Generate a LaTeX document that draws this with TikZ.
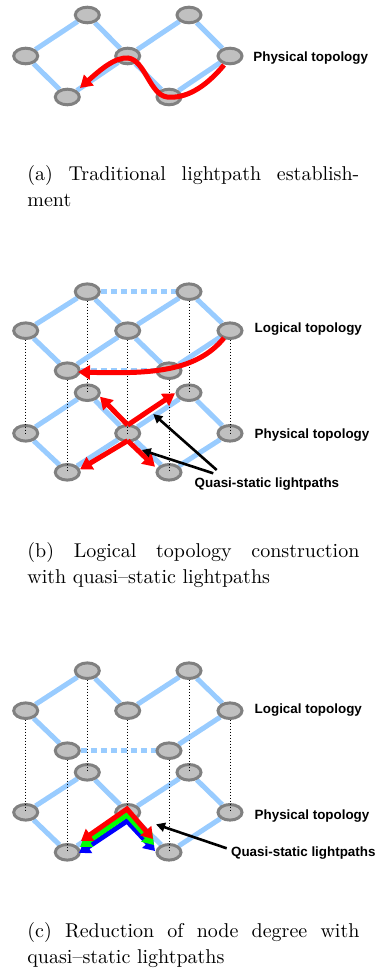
\documentclass[tikz,border=0pt]{standalone}
\usepackage{fontspec}
\newfontfamily\labfont{Liberation Sans}
\usetikzlibrary{arrows.meta,shapes.geometric}
\definecolor{edgeblue}{RGB}{153,204,255}
\definecolor{nodefill}{RGB}{192,192,192}
\definecolor{nodedraw}{RGB}{128,128,128}
\pgfdeclarelayer{pe}
\pgfdeclarelayer{pn}
\pgfdeclarelayer{vd}
\pgfdeclarelayer{le}
\pgfsetlayers{pe,pn,vd,le,main}
\tikzset{
  nd/.style={ellipse, draw=nodedraw, fill=nodefill, line width=1.5pt, minimum width=12pt, minimum height=7.8pt, inner sep=0pt},
  ed/.style={draw=edgeblue, line width=2.5pt},
  ded/.style={draw=edgeblue, line width=2.5pt, dash pattern=on 3pt off 2pt},
  vdot/.style={draw=black, line width=0.45pt, dash pattern=on 0.5pt off 1pt},
  rarr/.style={draw=red, line width=2.5pt, -{Triangle[length=6pt,width=7pt]}},
  dbl/.style={line width=2.5pt, {Triangle[length=5.5pt,width=7pt]}-{Triangle[length=5.5pt,width=7pt]}},
  barr/.style={draw=black, line width=1.3pt, -{Triangle[length=4.5pt,width=4.5pt]}},
  lbl/.style={font=\labfont\bfseries\fontsize{6.7}{8}\selectfont, anchor=base west, inner sep=0pt},
  capt/.style={anchor=base west, inner sep=0pt, font=\fontsize{10}{13.25}\selectfont}
}
\begin{document}
\begin{tikzpicture}[x=0.5pt,y=-0.5pt]
\useasboundingbox (0,0) rectangle (379,973);

% ---------------- Panel (a) ----------------
\begin{pgfonlayer}{pn}
\node[nd] (a1) at (87.3,15) {};
\node[nd] (a2) at (189,15) {};
\node[nd] (a3) at (25.7,56) {};
\node[nd] (a4) at (127.7,56) {};
\node[nd] (a5) at (230,56) {};
\node[nd] (a6) at (67.3,97) {};
\node[nd] (a7) at (169,97) {};
\end{pgfonlayer}
\begin{pgfonlayer}{pe}
\draw[ed] (a3)--(a1)--(a4)--(a2)--(a5)--(a7)--(a4)--(a6)--(a3);
\end{pgfonlayer}
\coordinate (as) at (224,65);
\coordinate (ae) at (80,88);
\draw[rarr] (as) .. controls (205,88) and (185,99) .. (167,97)
  .. controls (150,95) and (145,60) .. (128,58)
  .. controls (115,57) and (100,70) .. (ae);
\node[lbl] (alab) at (253,61.7) {Physical topology};
\node[capt] (acap) at (27,180.5) {\parbox[t]{166pt}{\makebox[166pt][s]{(a) Traditional lightpath establish-}\\ment}};

% ---------------- Panel (b) ----------------
\node[nd] (bL1) at (87.3,291.7) {};
\node[nd] (bL2) at (189,291.7) {};
\node[nd] (bL3) at (25.7,330.7) {};
\node[nd] (bL4) at (127.7,330.7) {};
\node[nd] (bL5) at (230,330.7) {};
\node[nd] (bL6) at (67.3,370.7) {};
\node[nd] (bL7) at (169,370.7) {};
\begin{pgfonlayer}{pn}
\node[nd] (bP1) at (87.3,392.7) {};
\node[nd] (bP2) at (189,392.7) {};
\node[nd] (bP3) at (25.7,433.3) {};
\node[nd] (bP4) at (127.7,433.3) {};
\node[nd] (bP5) at (230,433.3) {};
\node[nd] (bP6) at (67.3,472.3) {};
\node[nd] (bP7) at (169,472.3) {};
\end{pgfonlayer}
\begin{pgfonlayer}{pe}
\draw[ed] (bP3)--(bP1)--(bP4)--(bP2)--(bP5)--(bP7)--(bP4)--(bP6)--(bP3);
\end{pgfonlayer}
\begin{pgfonlayer}{vd}
\foreach \i in {1,...,7} {\draw[vdot] (bL\i.center) -- (bP\i.center);}
\end{pgfonlayer}
\begin{pgfonlayer}{le}
\draw[ed] (bL3)--(bL1)--(bL4)--(bL2)--(bL5)--(bL7)--(bL4)--(bL6)--(bL3);
\draw[ded] (bL1) -- (bL2);
\draw[ded] (bL6) -- (bL7);
\end{pgfonlayer}
\coordinate (bcs) at (224,338);
\coordinate (bce) at (78,372);
\draw[rarr] (bcs) .. controls (196,372) and (150,374) .. (bce);
\coordinate (bva) at (127.7,425);
\coordinate (bt1) at (100,396.7);
\coordinate (bt2) at (175,393.3);
\coordinate (bvb) at (127.7,440.7);
\coordinate (bt3) at (80,469.3);
\coordinate (bt4) at (155,466.7);
\draw[rarr] (bva) -- (bt1);
\draw[rarr] (bva) -- (bt2);
\draw[rarr] (bvb) -- (bt3);
\draw[rarr] (bvb) -- (bt4);
\node[lbl] (blog) at (254.3,332.3) {Logical topology};
\node[lbl] (bphy) at (254.3,438) {Physical topology};
\node[lbl] (bq) at (194.3,487.5) {Quasi-static lightpaths};
\coordinate (bk1s) at (216.7,470);
\coordinate (bk1e) at (153.3,414);
\coordinate (bk2s) at (213.3,473.3);
\coordinate (bk2e) at (141.7,450);
\draw[barr] (bk1s) -- (bk1e);
\draw[barr] (bk2s) -- (bk2e);
\node[capt] (bcap) at (27,557) {\parbox[t]{166pt}{\makebox[166pt][s]{(b) Logical topology construction}\\with quasi–static lightpaths}};

% ---------------- Panel (c) ----------------
\node[nd] (cL1) at (87.3,670.7) {};
\node[nd] (cL2) at (189,670.7) {};
\node[nd] (cL3) at (25.7,710.7) {};
\node[nd] (cL4) at (127.7,710.7) {};
\node[nd] (cL5) at (230,710.7) {};
\node[nd] (cL6) at (67.3,750.7) {};
\node[nd] (cL7) at (169,750.7) {};
\begin{pgfonlayer}{pn}
\node[nd] (cP1) at (87.3,772.3) {};
\node[nd] (cP2) at (189,772.3) {};
\node[nd] (cP3) at (25.7,812.3) {};
\node[nd] (cP4) at (127.7,812.3) {};
\node[nd] (cP5) at (230,812.3) {};
\node[nd] (cP6) at (67.3,852.3) {};
\node[nd] (cP7) at (169,852.3) {};
\end{pgfonlayer}
\begin{pgfonlayer}{pe}
\draw[ed] (cP3)--(cP1)--(cP4)--(cP2)--(cP5)--(cP7)--(cP4)--(cP6)--(cP3);
\end{pgfonlayer}
\begin{pgfonlayer}{vd}
\foreach \i in {1,...,7} {\draw[vdot] (cL\i.center) -- (cP\i.center);}
\end{pgfonlayer}
\begin{pgfonlayer}{le}
\draw[ed] (cL6)--(cL3)--(cL1)--(cL4)--(cL2)--(cL5)--(cL7);
\draw[ded] (cL6) -- (cL7);
\end{pgfonlayer}
\coordinate (cbl) at (79,853);
\coordinate (cba) at (127,821);
\coordinate (cbr) at (155,851);
\coordinate (cgl) at (80,847);
\coordinate (cga) at (127,815);
\coordinate (cgr) at (154,845);
\coordinate (crl) at (81,841);
\coordinate (cra) at (127,809);
\coordinate (crr) at (153,839);
\draw[dbl, draw=blue] (cbl) -- (cba) -- (cbr);
\draw[dbl, draw=green] (cgl) -- (cga) -- (cgr);
\draw[dbl, draw=red] (crl) -- (cra) -- (crr);
\node[lbl] (clog) at (254.3,713) {Logical topology};
\node[lbl] (cphy) at (254.3,819) {Physical topology};
\node[lbl] (cq) at (230.7,856) {Quasi-static lightpaths};
\coordinate (cks) at (226.7,848.3);
\coordinate (cke) at (156,824.3);
\draw[barr] (cks) -- (cke);
\node[capt] (ccap) at (27,937) {\parbox[t]{166pt}{\makebox[166pt][s]{(c) Reduction of node degree with}\\quasi–static lightpaths}};
\end{tikzpicture}
\end{document}
